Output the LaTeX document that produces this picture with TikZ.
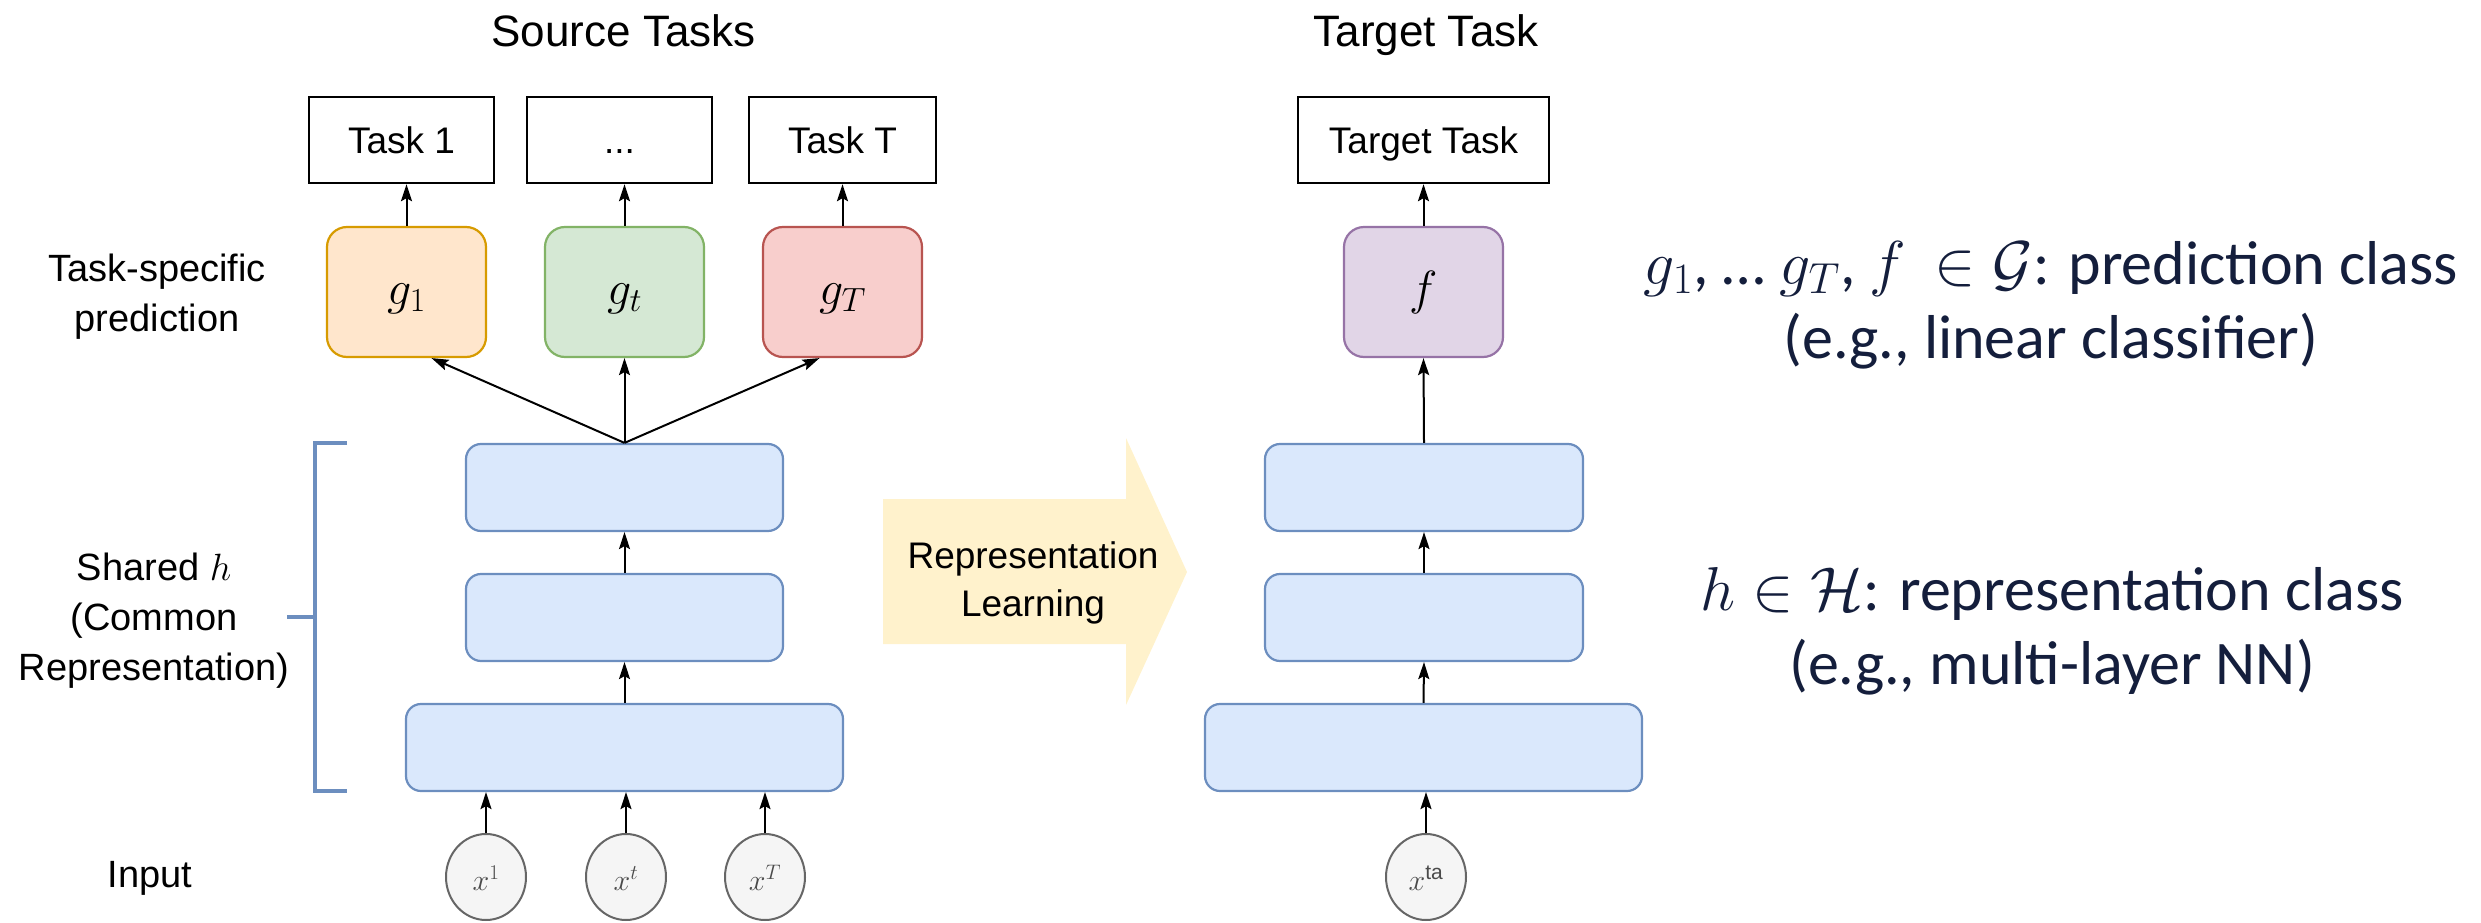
\RequirePackage{fix-cm}
\documentclass[tikz,border=0pt]{standalone}
\usepackage{fontspec}
\setmainfont{Liberation Sans}
\newfontfamily\calibrifont{Carlito}
\usetikzlibrary{arrows.meta,shapes.geometric}
\definecolor{bluefill}{HTML}{DAE8FC}
\definecolor{blueline}{HTML}{6C8EBF}
\definecolor{orfill}{HTML}{FFE6CC}
\definecolor{orline}{HTML}{D79B00}
\definecolor{grfill}{HTML}{D5E8D4}
\definecolor{grline}{HTML}{82B366}
\definecolor{rdfill}{HTML}{F8CECC}
\definecolor{rdline}{HTML}{B85450}
\definecolor{pufill}{HTML}{E1D5E7}
\definecolor{puline}{HTML}{9673A6}
\definecolor{infill}{HTML}{F5F5F5}
\definecolor{inline}{HTML}{666666}
\definecolor{intext}{HTML}{4A4A4A}
\definecolor{yefill}{HTML}{FFF2CC}
\definecolor{navy}{HTML}{141E3C}
\begin{document}
\begin{tikzpicture}[x=1pt,y=-1pt,
  taskbox/.style={draw=black, fill=white, line width=2.4pt, minimum height=86pt,
    inner sep=0pt, text height=26.5pt, text depth=0pt, font=\fontsize{37}{44}\selectfont},
  gbox/.style={rounded corners=20pt, line width=2.2pt, minimum width=159pt, minimum height=130pt,
    inner sep=0pt, text height=25pt, text depth=0pt, font=\fontsize{48}{56}\selectfont},
  layer/.style={draw=blueline, fill=bluefill, rounded corners=15pt, line width=2.2pt,
    minimum height=87pt, inner sep=0pt},
  inp/.style={ellipse, draw=inline, fill=infill, line width=2pt, minimum width=80pt,
    minimum height=86pt, inner sep=0pt, text height=26pt, text depth=0pt, text=intext,
    font=\fontsize{30}{36}\selectfont},
  conn/.style={-{Stealth[length=17pt,width=11pt,inset=3pt]}, line width=2pt},
  lbl/.style={font=\fontsize{38}{50}\selectfont, anchor=base, inner sep=0pt},
  ttl/.style={font=\fontsize{44}{52}\selectfont, anchor=base, inner sep=0pt},
  note/.style={font=\calibrifont\fontsize{62}{74}\selectfont, text=navy, anchor=base, inner sep=0pt},
  brk/.style={draw=blueline, line width=4pt}
]
\useasboundingbox (0,0) rectangle (2481,923);

% titles
\node[ttl] (srcT) at (623.5,47) {Source Tasks};
\node[ttl] (tgtT) at (1426,47) {Target Task};

% task boxes
\node[taskbox, minimum width=185pt] (task1) at (401.5,140) {Task 1};
\node[taskbox, minimum width=185pt] (taskd) at (619.5,140) {...};
\node[taskbox, minimum width=187pt] (taskT) at (842.5,140) {Task T};
\node[taskbox, minimum width=251pt] (tgt) at (1423.5,140) {Target Task};

% prediction heads
\node[gbox, draw=orline, fill=orfill] (g1) at (406.5,292) {$g_1$};
\node[gbox, draw=grline, fill=grfill] (gt) at (624.5,292) {$g_t$};
\node[gbox, draw=rdline, fill=rdfill] (gT) at (842.5,292) {$g_T$};
\node[gbox, draw=puline, fill=pufill] (f) at (1423.5,292) {$f$};

% source layers
\node[layer, minimum width=317pt] (s3) at (624.5,487.5) {};
\node[layer, minimum width=317pt] (s2) at (624.5,617.5) {};
\node[layer, minimum width=437pt] (s1) at (624.5,747.5) {};
% target layers
\node[layer, minimum width=318pt] (t3) at (1424,487.5) {};
\node[layer, minimum width=318pt] (t2) at (1424,617.5) {};
\node[layer, minimum width=437pt] (t1) at (1423.5,747.5) {};

% inputs
\node[inp] (x1) at (486,877) {$x^1$};
\node[inp] (xt) at (626,877) {$x^t$};
\node[inp] (xT) at (765,877) {$x^T$};
\node[inp] (xta) at (1426,877) {$x^{\mathrm{ta}}$};

% connectors source
\draw[conn] (g1.north) -- (g1.north |- task1.south);
\draw[conn] (gt.north) -- (gt.north |- taskd.south);
\draw[conn] (gT.north) -- (gT.north |- taskT.south);
\draw[conn] (s3.north) -- ([xshift=25pt]g1.south);
\draw[conn] (s3.north) -- (gt.south);
\draw[conn] (s3.north) -- ([xshift=-23pt]gT.south);
\draw[conn] (s2.north) -- (s3.south);
\draw[conn] (s1.north) -- (s2.south);
\draw[conn] (x1.north) -- (x1.north |- s1.south);
\draw[conn] (xt.north) -- (xt.north |- s1.south);
\draw[conn] (xT.north) -- (xT.north |- s1.south);

% connectors target
\draw[conn] (f.north) -- (f.north |- tgt.south);
\draw[conn] (t3.north) -- (f.south);
\draw[conn] (t2.north) -- (t3.south);
\draw[conn] (t1.north) -- (t2.south);
\draw[conn] (xta.north) -- (xta.north |- t1.south);

% bracket
\draw[brk] (347,443) -- (315,443) -- (315,791) -- (347,791);
\draw[brk] (287,617) -- (315,617);

% left labels
\node[lbl] (lpred) at (157,281) {\begin{tabular}[t]{@{}c@{}}Task-specific\\prediction\end{tabular}};
\node[lbl] (lshared) at (154,580) {\begin{tabular}[t]{@{}c@{}}Shared $h$\\(Common\\Representation)\end{tabular}};
\node[lbl] (linput) at (150,887) {Input};

% big arrow
\fill[yefill] (883,499) -- (1126,499) -- (1126,438) -- (1187,572) -- (1126,705) -- (1126,644) -- (883,644) -- cycle;
\node[lbl, font=\fontsize{37}{48}\selectfont] (rl) at (1033,568) {\begin{tabular}[t]{@{}c@{}}Representation\\Learning\end{tabular}};

% right notes
\node[note] (n1) at (2051,284) {\begin{tabular}[t]{@{}c@{}}$g_1$, … $g_T$, $f$ ~$\in \mathcal{G}$: prediction class\\(e.g., linear classifier)\end{tabular}};
\node[note] (n2) at (2052,610) {\begin{tabular}[t]{@{}c@{}}$h \in \mathcal{H}$: representation class\\(e.g., multi-layer NN)\end{tabular}};
\end{tikzpicture}
\end{document}
